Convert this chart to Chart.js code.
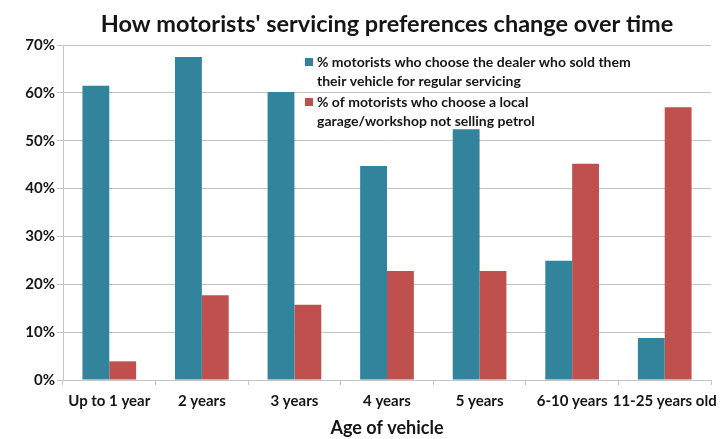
<!DOCTYPE html>
<html>
<head>
<meta charset="utf-8">
<script src="https://cdn.jsdelivr.net/npm/chart.js@4"></script>
<style>
  body { margin: 0; background: #fff; }
  #wrap { width: 728px; height: 439px; }
</style>
</head>
<body>
<div id="wrap"><canvas id="prefs_chart" width="728" height="439"></canvas></div>
<script>
var chartTitle = "How motorists' servicing preferences change over time";
var categories = ["Up to 1 year", "2 years", "3 years", "4 years", "5 years", "6-10 years", "11-25 years old"];
var dealerValues = [61.5, 67.5, 60.2, 44.7, 52.4, 24.9, 8.8];
var garageValues = [3.9, 17.7, 15.7, 22.8, 22.8, 45.2, 57.0];
var dealerLabel = ["% motorists who choose the dealer who sold them", "their vehicle for regular servicing"];
var garageLabel = ["% of motorists who choose a local", "garage/workshop not selling petrol"];
var yTicks = [0, 10, 20, 30, 40, 50, 60, 70];

var teal = "#31849b";
var red = "#c0504d";
var textColor = "#151515";
var gridColor = "#c4c4c4";

// title over the plot area + two-line legend entries
var extras = {
  id: 'extras',
  afterDraw: function(chart) {
    var ctx = chart.ctx;
    var area = chart.chartArea;
    ctx.save();
    ctx.fillStyle = textColor;
    ctx.font = "bold 23.5px Lato";
    ctx.textAlign = "center";
    ctx.textBaseline = "middle";
    ctx.fillText(chartTitle, (area.left + area.right) / 2, 24);

    ctx.font = "bold 14px Lato";
    ctx.textAlign = "left";
    var items = [[teal, dealerLabel, 62], [red, garageLabel, 102]];
    items.forEach(function(it) {
      ctx.fillStyle = it[0];
      ctx.fillRect(305, it[2] - 4, 8, 8);
      ctx.fillStyle = textColor;
      ctx.fillText(it[1][0], 317, it[2]);
      ctx.fillText(it[1][1], 317, it[2] + 19);
    });
    ctx.restore();
  }
};

var context = document.getElementById("prefs_chart").getContext('2d');
var myChart = new Chart(context, {
  type: 'bar',
  data: {
    labels: categories,
    datasets: [{
      label: dealerLabel.join(" "),
      backgroundColor: teal,
      data: dealerValues
    }, {
      label: garageLabel.join(" "),
      backgroundColor: red,
      data: garageValues
    }]
  },
  options: {
    responsive: false,
    animation: false,
    layout: { padding: { top: 45, left: 0, right: 17, bottom: 0 } },
    datasets: { bar: { categoryPercentage: 0.58, barPercentage: 1.0 } },
    plugins: {
      legend: { display: false },
      tooltip: { enabled: false }
    },
    scales: {
      x: {
        afterFit: function(scale) { scale.height = 59; },
        grid: { drawOnChartArea: false, drawTicks: true, tickLength: 5, color: gridColor, offset: true },
        border: { color: gridColor },
        ticks: { color: textColor, font: { family: 'Lato', size: 15, weight: 'bold' }, padding: 7, maxRotation: 0, autoSkip: false },
        title: { display: true, text: 'Age of vehicle', color: textColor, font: { family: 'Lato', size: 18, weight: 'bold' }, padding: { top: 0, bottom: 0 } }
      },
      y: {
        min: 0,
        max: 70,
        afterFit: function(scale) { scale.width = 63; },
        afterBuildTicks: function(scale) {
          scale.ticks = yTicks.map(function(v) { return { value: v }; });
        },
        grid: { color: gridColor, tickLength: 6 },
        border: { color: gridColor },
        ticks: {
          color: textColor,
          font: { family: 'Lato', size: 15, weight: 'bold' },
          padding: 2,
          callback: function(v) { return v + '%'; }
        }
      }
    }
  },
  plugins: [extras]
});
</script>
</body>
</html>
